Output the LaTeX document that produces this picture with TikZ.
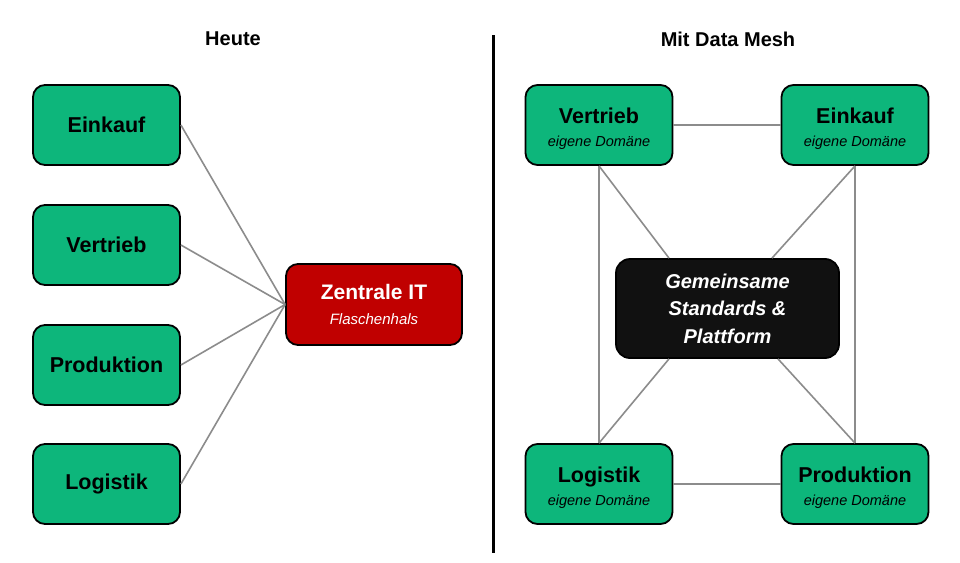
\documentclass[tikz,border=0pt]{standalone}
\usepackage{fontspec}
\setmainfont{Liberation Sans}
\usetikzlibrary{calc}
\definecolor{boxgreen}{HTML}{0DB67B}
\definecolor{itred}{HTML}{C00000}
\definecolor{platblack}{HTML}{111111}
\definecolor{linkgrey}{HTML}{8C8C8C}
\tikzset{
  dombox/.style={draw=black, line width=1.8pt, fill=boxgreen, rounded corners=12pt,
    minimum width=147pt, minimum height=80pt, inner sep=0pt, align=center, text=black,
    font=\fontsize{14.5}{23}\selectfont},
  domtext/.style={align=center, text=black, inner sep=0pt, yshift=-3.5pt,
    font=\fontsize{14.5}{23}\selectfont},
  redbox/.style={draw=black, line width=1.8pt, fill=itred, rounded corners=12pt,
    minimum width=176pt, minimum height=81pt, inner sep=0pt, align=center, text=white,
    font=\fontsize{15}{25}\selectfont},
  blackbox/.style={draw=black, line width=1.8pt, fill=platblack, rounded corners=14pt,
    minimum width=223pt, minimum height=99pt, inner sep=0pt, align=center, text=white,
    font=\fontsize{20}{27.5}\selectfont\bfseries\itshape},
  link/.style={draw=linkgrey, line width=1.6pt},
  title/.style={font=\fontsize{20}{24}\selectfont\bfseries, text=black},
  divider/.style={draw=black, line width=3pt}
}
\newcommand{\domtitle}[1]{{\fontsize{21.5}{23}\selectfont\bfseries #1}}
\newcommand{\domsub}{{\itshape eigene Domäne}}
\begin{document}
\begin{tikzpicture}[x=1pt,y=-1pt]
\useasboundingbox (0,0) rectangle (960,562);
\fill[white] (0,0) rectangle (960,562);

% titles
\node[title] (tl) at (233,39) {Heute};
\node[title] (tr) at (728,39) {Mit Data Mesh};

% divider
\coordinate (dtop) at (493,35);
\coordinate (dbot) at (493,553);
\draw[divider] (dtop) -- (dbot);

% left side
\node[dombox] (lein) at (106.5,125) {\domtitle{Einkauf}};
\node[dombox] (lver) at (106.5,245) {\domtitle{Vertrieb}};
\node[dombox] (lpro) at (106.5,365) {\domtitle{Produktion}};
\node[dombox] (llog) at (106.5,484) {\domtitle{Logistik\vphantom{Ek}}};
\node[redbox] (it) at (374,304.5) {{\fontsize{21}{25}\selectfont\bfseries Zentrale IT}\\{\itshape Flaschenhals}};

\draw[link] (lein.east) -- (it.west);
\draw[link] (lver.east) -- (it.west);
\draw[link] (lpro.east) -- (it.west);
\draw[link] (llog.east) -- (it.west);

% right side
\node[dombox] (rver) at (599,125) {};
\node[domtext] (rvert) at (rver.center) {\domtitle{Vertrieb}\\\domsub};
\node[dombox] (rein) at (855,125) {};
\node[domtext] (reint) at (rein.center) {\domtitle{Einkauf}\\\domsub};
\node[dombox] (rlog) at (599,484) {};
\node[domtext] (rlogt) at (rlog.center) {\domtitle{Logistik}\\\domsub};
\node[dombox] (rpro) at (855,484) {};
\node[domtext] (rprot) at (rpro.center) {\domtitle{Produktion}\\\domsub};

\draw[link] (rver.east) -- (rein.west);
\draw[link] (rlog.east) -- (rpro.west);
\draw[link] (rver.south) -- (rlog.north);
\draw[link] (rein.south) -- (rpro.north);

\node[blackbox] (plat) at (727.5,308.5) {Gemeinsame\\Standards \&\\Plattform};

\draw[link] (rver.south) -- ([xshift=-58.5pt]plat.north);
\draw[link] (rein.south) -- ([xshift=44.5pt]plat.north);
\draw[link] ([xshift=-58.5pt]plat.south) -- (rlog.north);
\draw[link] ([xshift=50.5pt]plat.south) -- (rpro.north);
\end{tikzpicture}
\end{document}
